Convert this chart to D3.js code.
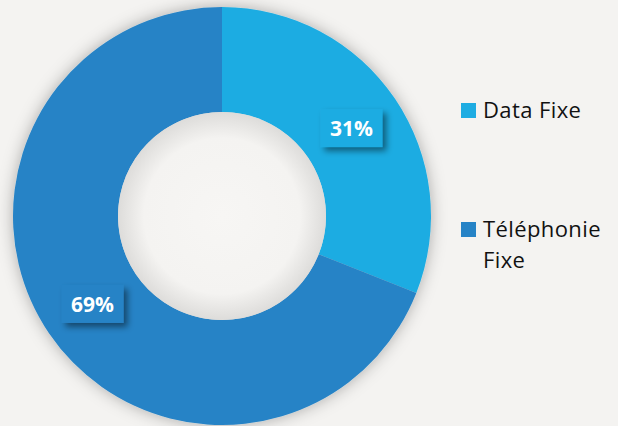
<!DOCTYPE html>
<html>
<head>
<meta charset="utf-8">
<script src="https://cdn.jsdelivr.net/npm/d3@7"></script>
<style>
  body { margin: 0; background: #f4f3f1; }
  svg { display: block; }
</style>
</head>
<body>
<div id="chart"></div>
<script>
// chart data
const categories = ["Data Fixe", "Téléphonie Fixe"];
const values = [31, 69];
const colors = ["#1eace2", "#2683c6"];

const width = 618, height = 426;
const cx = 222, cy = 216;
const outerR = 209, innerR = 104;

const svg = d3.select("#chart")
  .append("svg")
  .attr("width", width)
  .attr("height", height);

const defs = svg.append("defs");

// soft shadow around the donut
const ring = defs.append("filter").attr("id", "ringShadow")
  .attr("x", "-20%").attr("y", "-20%").attr("width", "140%").attr("height", "140%");
ring.append("feDropShadow")
  .attr("dx", 0).attr("dy", 0)
  .attr("stdDeviation", 8)
  .attr("flood-color", "#000").attr("flood-opacity", 0.3);

// shadow under the value boxes
const box = defs.append("filter").attr("id", "boxShadow")
  .attr("x", "-30%").attr("y", "-30%").attr("width", "170%").attr("height", "180%");
box.append("feDropShadow")
  .attr("dx", 4).attr("dy", 4)
  .attr("stdDeviation", 3)
  .attr("flood-color", "#000").attr("flood-opacity", 0.45);

// inner hole shading
const hole = defs.append("radialGradient").attr("id", "holeGrad");
hole.append("stop").attr("offset", "0%").attr("stop-color", "#f7f6f4");
hole.append("stop").attr("offset", "75%").attr("stop-color", "#f4f3f1");
hole.append("stop").attr("offset", "100%").attr("stop-color", "#dddcda");

const g = svg.append("g")
  .attr("transform", `translate(${cx}, ${cy})`);

const pie = d3.pie().sort(null).value(d => d);
const arcs = pie(values);

const arc = d3.arc()
  .innerRadius(innerR)
  .outerRadius(outerR);

g.append("g")
  .attr("filter", "url(#ringShadow)")
  .selectAll("path")
  .data(arcs)
  .join("path")
  .attr("d", arc)
  .attr("fill", (d, i) => colors[i]);

g.append("circle")
  .attr("r", innerR)
  .attr("fill", "url(#holeGrad)");

// value labels
const labels = g.selectAll(".lbl")
  .data(arcs)
  .join("g")
  .attr("class", "lbl")
  .attr("transform", d => `translate(${arc.centroid(d)})`);

labels.append("rect")
  .attr("x", -31).attr("y", -19)
  .attr("width", 62).attr("height", 38)
  .attr("fill", (d, i) => colors[i])
  .attr("filter", "url(#boxShadow)");

labels.append("text")
  .attr("text-anchor", "middle")
  .attr("dy", "0.36em")
  .attr("fill", "#fff")
  .style("font-family", "'Open Sans', sans-serif")
  .style("font-weight", "bold")
  .style("font-size", "21px")
  .text(d => d.data + "%");

// legend
const legendItems = [
  {lines: ["Data Fixe"], y: 103},
  {lines: ["Téléphonie", "Fixe"], y: 222}
];

const legend = svg.append("g")
  .selectAll("g")
  .data(legendItems)
  .join("g")
  .attr("transform", d => `translate(461, ${d.y})`);

legend.append("rect")
  .attr("width", 15).attr("height", 15)
  .attr("fill", (d, i) => colors[i]);

legend.append("text")
  .attr("x", 22)
  .attr("y", 15)
  .style("font-family", "'Open Sans', sans-serif")
  .style("font-size", "22px")
  .style("letter-spacing", "0.4px")
  .attr("fill", "#111")
  .selectAll("tspan")
  .data(d => d.lines)
  .join("tspan")
  .attr("x", 22)
  .attr("dy", (d, i) => i === 0 ? 0 : 31)
  .text(d => d);
</script>
</body>
</html>
